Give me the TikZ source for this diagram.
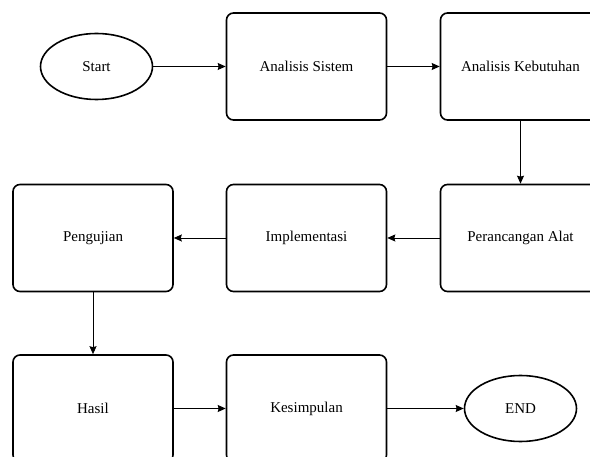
\documentclass[tikz,border=0pt]{standalone}
\usepackage{fontspec}
\setmainfont{Liberation Serif}
\usetikzlibrary{shapes.geometric,arrows.meta}
\begin{document}
\begin{tikzpicture}[x=1pt,y=-1pt,
  box/.style={draw=black,line width=1.6pt,rounded corners=7pt,minimum width=160pt,minimum height=107pt,inner sep=0pt,font=\fontsize{15}{18}\selectfont},
  term/.style={draw=black,line width=1.6pt,ellipse,minimum width=112pt,minimum height=66pt,inner sep=0pt,font=\fontsize{15}{18}\selectfont},
  conn/.style={line width=0.9pt,-{Stealth[length=8pt,width=7pt,inset=1pt]}}]
\useasboundingbox (0,0) rectangle (590,457);
\clip (0,0) rectangle (590,457);
\node[term] (start) at (96.5,66.5) {Start};
\node[box] (as) at (306.5,66.5) {Analisis Sistem};
\node[box] (ak) at (520.5,66.5) {Analisis Kebutuhan};
\node[box] (pa) at (520.5,238) {Perancangan Alat};
\node[box] (im) at (306.5,238) {Implementasi};
\node[box] (pe) at (93,238) {Pengujian};
\node[box] (ha) at (93,408.5) {Hasil};
\node[box] (ke) at (306.5,408.5) {Kesimpulan};
\node[term] (end) at (520.5,408.5) {END};
\draw[conn] (start) -- (as);
\draw[conn] (as) -- (ak);
\draw[conn] (ak) -- (pa);
\draw[conn] (pa) -- (im);
\draw[conn] (im) -- (pe);
\draw[conn] (pe) -- (ha);
\draw[conn] (ha) -- (ke);
\draw[conn] (ke) -- (end);
\end{tikzpicture}
\end{document}
